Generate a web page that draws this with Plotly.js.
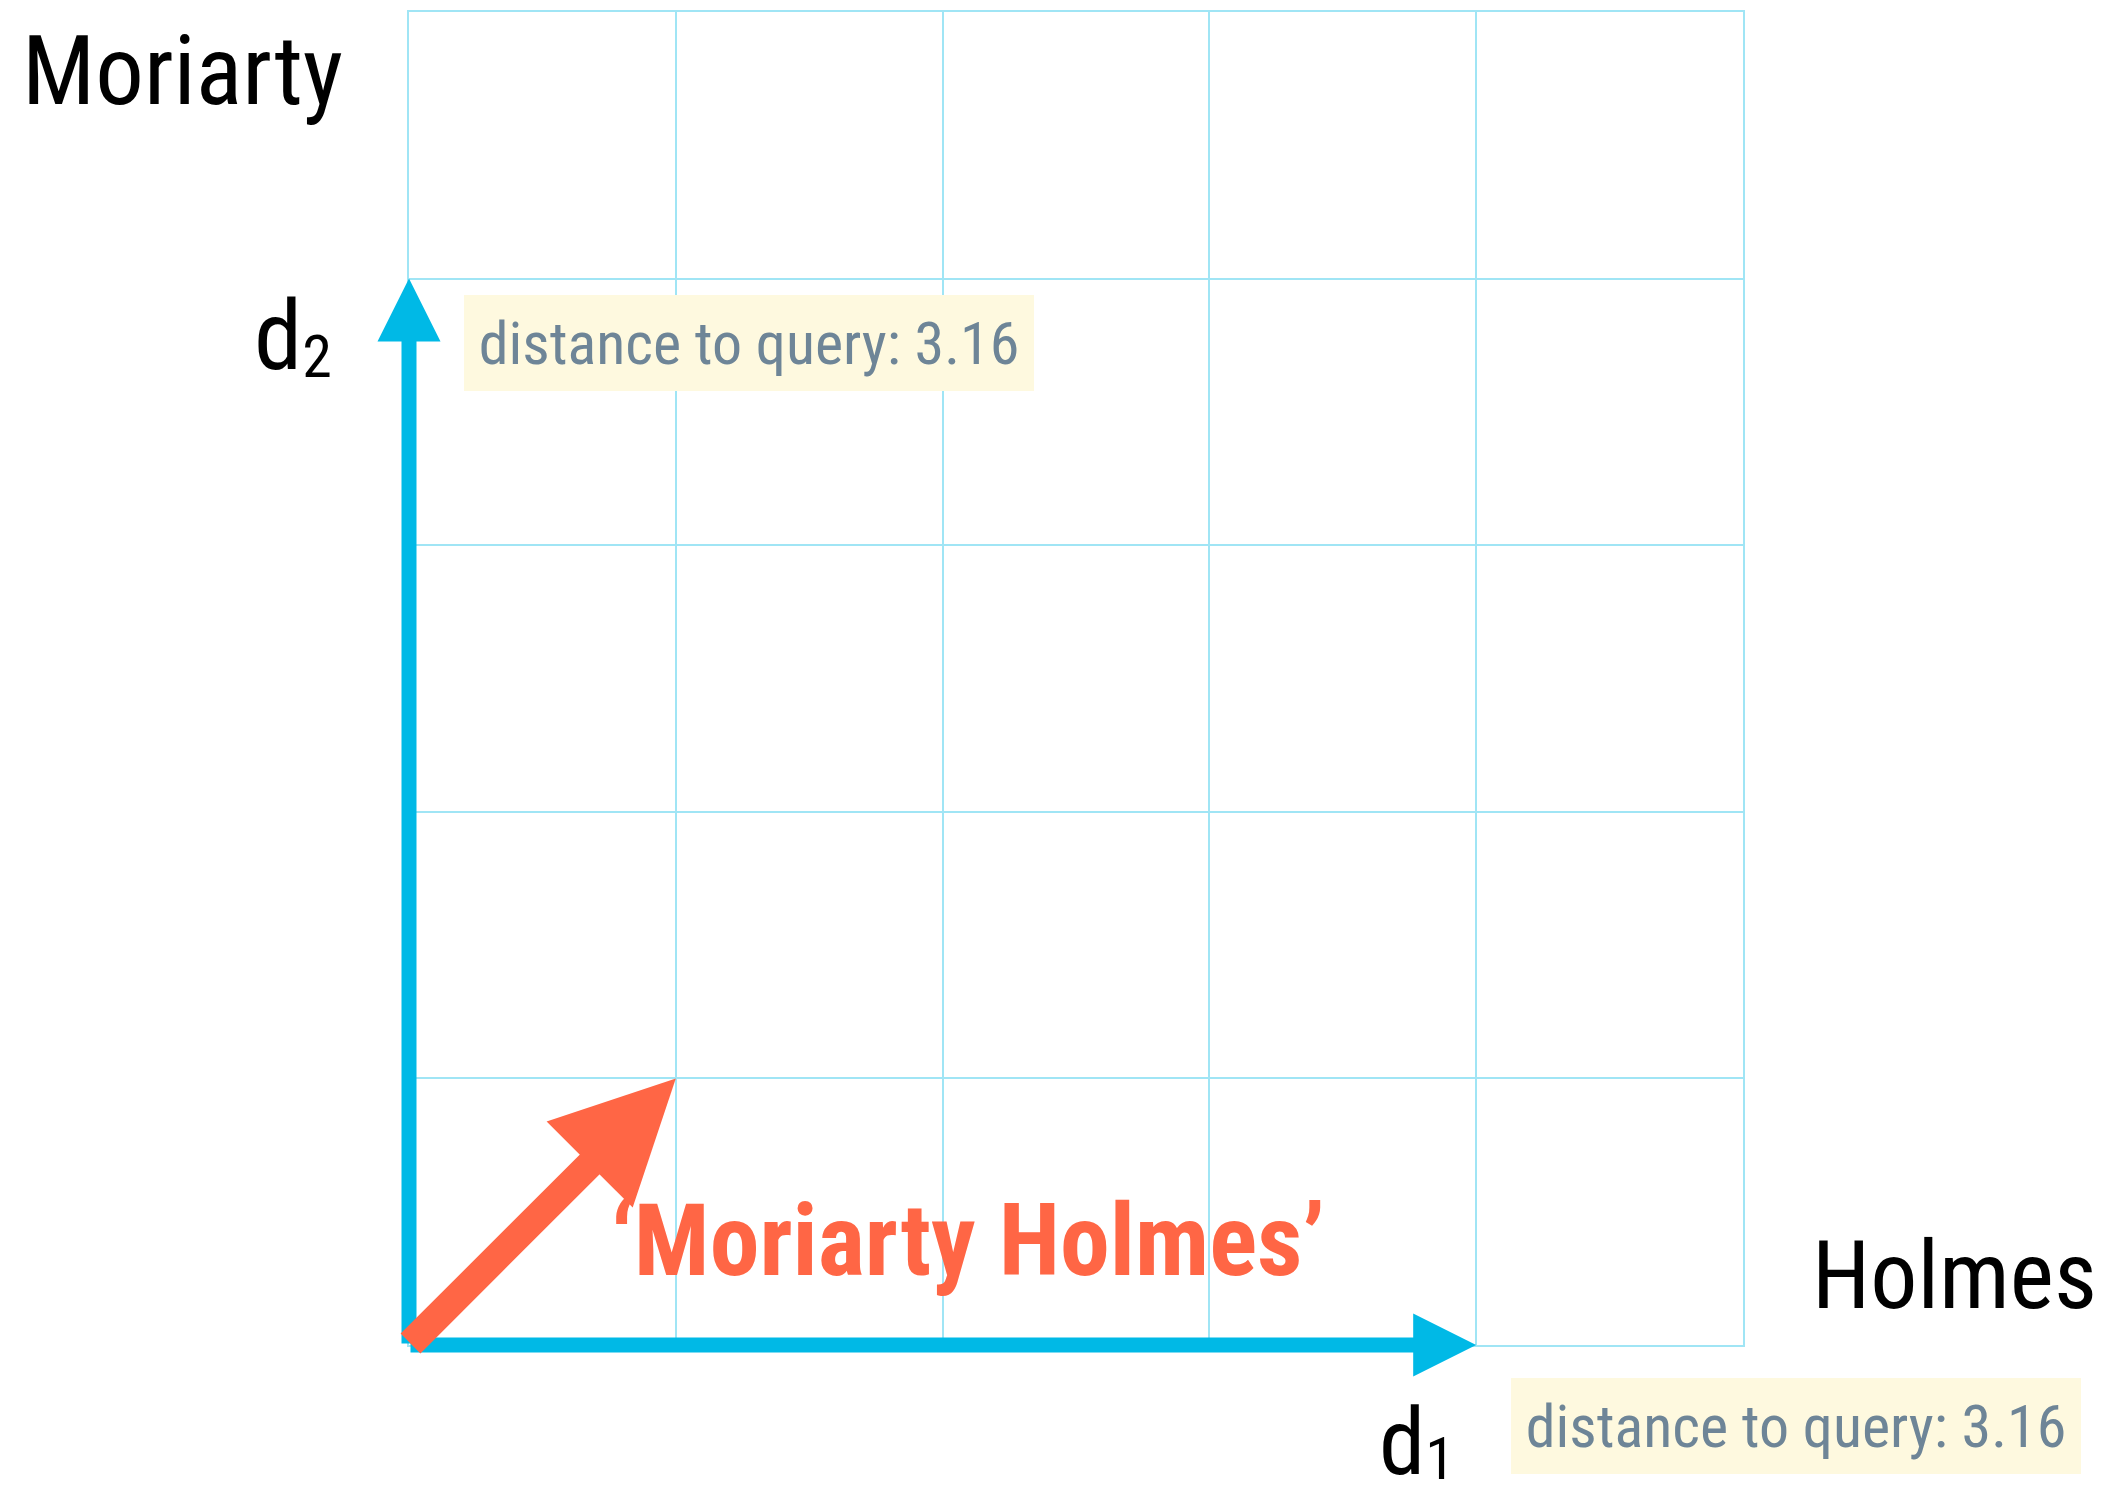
<!DOCTYPE html>
<html><head><meta charset="utf-8">
<script src="https://cdn.plot.ly/plotly-3.0.1.min.js"></script>
<style>html,body{margin:0;padding:0;background:#fff}</style>
</head><body>
<div id="chart" style="width:2104px;height:1500px"></div>
<script>
// ---- data ----
const axisTerms = ['Holmes', 'Moriarty'];          // x term, y term
const docNames = ['d', 'd'];
const docSubs = ['1', '2'];
const docHolmes = [4, 0];
const docMoriarty = [0, 4];
const docDistances = [3.16, 3.16];
const queryText = '\u2018Moriarty Holmes\u2019';
const queryHolmes = [1];
const queryMoriarty = [1];
const gridMax = 5;

// ---- style ----
const BLUE = '#00b9e6', ORANGE = '#ff6645', GRID = '#a0e5f5';
const BOXBG = '#fef9df', BOXTXT = '#6e8597';
const FONT = '"Liberation Sans Narrow", "Roboto Condensed", Roboto, sans-serif';
const L = 409, T = 12, W = 1334, H = 1333;
const px2paperX = px => (px - L) / W;
const px2paperY = py => (T + H - py) / H;

// label placements per document (pixel shifts from the doc tip)
const docLabelShift = [{x: -59, y: -97}, {x: -116, y: -57}];
const docSubShift = ['-5px', '-8px'];
const docBoxShift = [{x: 35, y: -33}, {x: 55, y: -16}];

const annotations = [];
// document vectors
for (let i = 0; i < docHolmes.length; i++) {
  annotations.push({
    x: docHolmes[i], y: docMoriarty[i], xref: 'x', yref: 'y',
    ax: 0, ay: 0, axref: 'x', ayref: 'y', text: '', showarrow: true,
    arrowhead: 2, arrowsize: 0.84, arrowwidth: 15, arrowcolor: BLUE, standoff: 0
  });
}
// query vector
annotations.push({
  x: queryHolmes[0], y: queryMoriarty[0], xref: 'x', yref: 'y',
  ax: 0, ay: 0, axref: 'x', ayref: 'y', text: '', showarrow: true,
  arrowhead: 2, arrowsize: 0.87, arrowwidth: 28, arrowcolor: ORANGE, standoff: 0
});
// document labels and distance boxes
for (let i = 0; i < docHolmes.length; i++) {
  annotations.push({
    x: docHolmes[i], y: docMoriarty[i], xref: 'x', yref: 'y', showarrow: false,
    text: docNames[i] + '<span style="font-size:60px;baseline-shift:' + docSubShift[i] + '">' + docSubs[i] + '</span>',
    font: {family: FONT, size: i === 0 ? 93 : 97, color: '#000'},
    xanchor: 'center', yanchor: 'middle',
    xshift: docLabelShift[i].x, yshift: docLabelShift[i].y
  });
  annotations.push({
    x: docHolmes[i], y: docMoriarty[i], xref: 'x', yref: 'y', showarrow: false,
    text: 'distance to query: ' + docDistances[i].toFixed(2),
    font: {family: FONT, size: 60, color: BOXTXT},
    bgcolor: BOXBG, borderpad: 0, borderwidth: 0,
    width: 570, height: 96, align: 'center', valign: 'middle',
    xanchor: 'left', yanchor: 'top',
    xshift: docBoxShift[i].x, yshift: docBoxShift[i].y
  });
}
// query label
annotations.push({
  x: queryHolmes[0], y: queryMoriarty[0], xref: 'x', yref: 'y', showarrow: false,
  text: '<b>' + queryText + '</b>',
  font: {family: FONT, size: 100, color: ORANGE},
  xanchor: 'center', yanchor: 'middle', xshift: 292, yshift: -162
});
// axis term labels
annotations.push({
  x: px2paperX(182), y: px2paperY(71), xref: 'paper', yref: 'paper', showarrow: false,
  text: axisTerms[1], font: {family: FONT, size: 97, color: '#000'},
  xanchor: 'center', yanchor: 'middle'
});
annotations.push({
  x: px2paperX(1954), y: px2paperY(1276), xref: 'paper', yref: 'paper', showarrow: false,
  text: axisTerms[0], font: {family: FONT, size: 94, color: '#000'},
  xanchor: 'center', yanchor: 'middle'
});

const axisCommon = {
  range: [0, gridMax], dtick: 1, tick0: 0, showgrid: true, gridcolor: GRID, gridwidth: 2,
  zeroline: false, showline: true, mirror: true, linecolor: GRID, linewidth: 2,
  showticklabels: false, ticks: '', fixedrange: true
};

const data = [{
  x: docHolmes.concat(queryHolmes), y: docMoriarty.concat(queryMoriarty),
  type: 'scatter', mode: 'markers', marker: {opacity: 0}, hoverinfo: 'skip', showlegend: false
}];

const layout = {
  width: 2104, height: 1500,
  margin: {l: L, r: 2104 - L - W, t: T, b: 1500 - T - H},
  paper_bgcolor: '#fff', plot_bgcolor: '#fff',
  xaxis: axisCommon, yaxis: Object.assign({}, axisCommon),
  showlegend: false, annotations: annotations
};

Plotly.newPlot('chart', data, layout, {displayModeBar: false, staticPlot: true});
</script>
</body></html>
